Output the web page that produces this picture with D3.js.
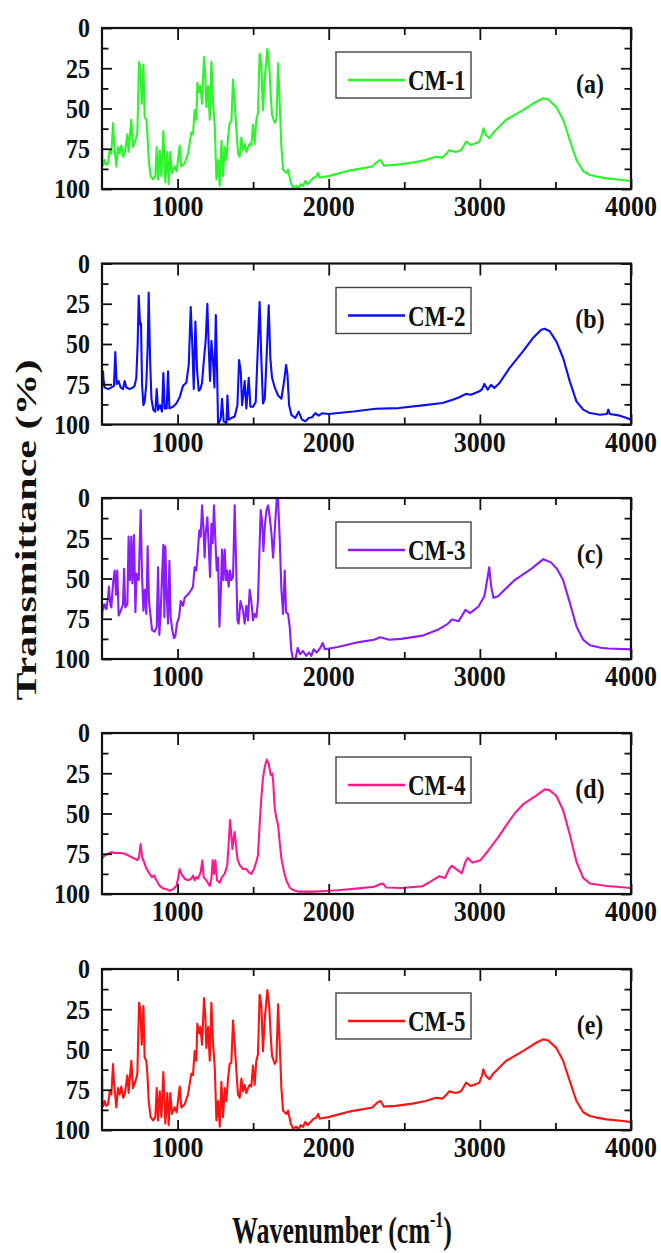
<!DOCTYPE html>
<html><head><meta charset="utf-8">
<script src="https://cdn.jsdelivr.net/npm/d3@7"></script>
<style>
body{margin:0;background:#fff}
svg{display:block}
text{font-family:"Liberation Serif","Times New Roman",serif;font-weight:bold;fill:#111}
</style>
</head><body>
<svg id="c" width="661" height="1253"></svg>
<script>
const xTicks=[1000,2000,3000,4000];
const xMinor=[1500,2500,3500];
const yTicks=[0,25,50,75,100];
const yMinor=[12.5,37.5,62.5,87.5];
const names=["CM-1","CM-2","CM-3","CM-4","CM-5"];
const panelLabels=["(a)","(b)","(c)","(d)","(e)"];
const colors=["#2cf52c","#0c0cff","#8a1cff","#ff1a8c","#ff1212"];
const xTitle="Wavenumber (cm";
const xTitleSup="-1";
const yTitle="Transmittance (%)";

const cm1=[[500,61],[503,84],[510,85],[518,82],[529,85],[540,84],[551,76],[562,78],[573,59],[579,70],[595,86],[606,74],[617,78],[628,73],[640,80],[650,78],[668,66],[676,77],[694,57],[705,74],[721,70],[734,65],[745,21],[754,25],[763,47],[774,23],[782,55],[793,57],[800,65],[809,82],[822,92],[838,94],[853,92],[862,74],[871,94],[882,76],[893,92],[906,64],[919,96],[932,77],[941,97],[952,77],[963,90],[981,86],[994,89],[1014,73],[1025,86],[1047,84],[1069,78],[1091,65],[1102,66],[1113,51],[1124,57],[1131,34],[1142,40],[1151,36],[1162,47],[1175,18],[1184,30],[1190,49],[1202,36],[1213,57],[1224,21],[1235,47],[1246,61],[1257,94],[1268,82],[1279,98],[1290,70],[1301,92],[1312,74],[1323,82],[1334,68],[1345,59],[1356,58],[1367,32],[1378,47],[1389,63],[1400,78],[1411,80],[1422,68],[1433,76],[1444,72],[1455,77],[1466,74],[1477,72],[1488,73],[1499,60],[1510,72],[1521,57],[1532,53],[1543,16],[1554,22],[1565,51],[1577,31],[1594,13],[1607,24],[1616,41],[1625,54],[1643,59],[1654,57],[1665,22],[1676,47],[1687,74],[1698,88],[1709,89],[1720,90],[1731,88],[1749,96],[1764,99],[1786,98],[1800,99.5],[1815,97],[1830,98],[1845,95],[1860,97],[1880,95],[1900,93],[1915,92.5],[1930,90],[1940,93],[1960,92.5],[2000,92],[2066,90.3],[2133,88.6],[2221,87.2],[2288,86],[2321,83],[2343,82],[2365,85.5],[2443,85],[2554,83.6],[2642,82],[2709,80],[2753,80.5],[2780,78],[2797,76],[2842,77],[2875,76],[2895,73],[2908,70.6],[2941,72.7],[2997,70.6],[3015,66],[3023,62.3],[3041,66.5],[3063,68.5],[3085,65.4],[3174,57],[3285,51],[3373,45.8],[3418,43.7],[3451,44.2],[3506,49],[3551,57],[3595,69.6],[3639,82],[3684,89],[3728,91.3],[3772,92.3],[3838,93.4],[3949,94.4],[4000,95.2]];

const cm2=[[500,78],[507,67],[510,72],[518,77],[540,78],[562,77],[579,76],[588,55],[597,75],[610,73],[623,77],[639,78],[650,73],[661,77],[683,78],[705,77],[716,76],[727,71],[736,50],[743,20],[752,38],[758,37],[765,75],[774,88],[782,86],[793,75],[802,52],[809,18],[818,59],[827,84],[840,91],[853,92],[862,78],[871,91],[884,88],[897,92],[906,68],[915,90],[928,90],[937,67],[946,90],[970,89],[992,87],[1014,83],[1036,76],[1058,74],[1074,63],[1087,27],[1098,52],[1107,78],[1118,36],[1129,66],[1140,79],[1151,78],[1162,74],[1175,59],[1186,48],[1197,25],[1206,52],[1215,73],[1224,48],[1235,61],[1244,77],[1253,32],[1262,69],[1268,100],[1286,96],[1294,84],[1305,98],[1323,99],[1330,82],[1338,97],[1356,96],[1378,95],[1396,88],[1407,60],[1418,67],[1427,88],[1438,79],[1444,73],[1455,90],[1471,71],[1482,89],[1499,89],[1517,86],[1532,50],[1543,24],[1554,59],[1565,87],[1577,84],[1590,56],[1603,26],[1614,59],[1625,71],[1643,77],[1665,82],[1687,84],[1705,73],[1718,63],[1727,69],[1738,88],[1753,94],[1779,96],[1801,92],[1823,97],[1845,98],[1867,96],[1889,95.5],[1911,93],[1934,94.5],[1956,93],[2000,93.5],[2177,91.8],[2310,90.2],[2465,89.8],[2620,88.1],[2753,86.6],[2820,84.6],[2864,83.1],[2908,81],[2941,81.5],[2997,79.4],[3015,78],[3030,74.8],[3052,78.4],[3074,75.3],[3096,77.3],[3130,74.2],[3196,65],[3285,54.6],[3351,46.3],[3406,41.1],[3429,40.5],[3462,42.1],[3506,48.4],[3551,58.7],[3595,73.2],[3639,85.6],[3684,90.8],[3728,92.9],[3794,93.9],[3840,93.5],[3850,90.8],[3860,93.5],[3927,94.5],[3971,96],[4000,97]];

const cm3=[[500,76],[505,66],[509,69],[518,66],[529,69],[540,62],[546,55],[555,66],[562,68],[573,53],[584,45],[593,60],[601,45],[610,73],[624,70],[639,66],[646,44],[654,68],[668,66],[676,24],[685,51],[694,24],[701,53],[712,23],[721,71],[729,47],[743,51],[756,7.5],[765,49],[774,70],[782,57],[793,72],[802,30],[811,64],[822,74],[831,82],[849,83],[862,80],[871,43],[879,85],[888,72],[897,49],[906,29],[913,74],[919,30],[928,60],[937,78],[946,39],[954,74],[965,82],[976,87],[985,86],[996,78],[1010,74],[1021,64],[1036,67],[1047,62],[1069,60],[1091,57],[1102,55],[1113,43],[1124,45],[1135,32],[1144,20],[1153,24],[1162,4.5],[1171,18],[1179,37],[1186,22],[1197,12],[1206,30],[1215,49],[1224,16],[1232,28],[1241,4.5],[1250,26],[1259,45],[1268,37],[1277,80],[1285,62],[1294,32],[1303,51],[1312,32],[1321,51],[1329,45],[1338,55],[1347,45],[1356,51],[1367,49],[1378,4.5],[1389,47],[1396,76],[1404,78],[1416,64],[1424,67],[1433,70],[1444,78],[1455,67],[1466,76],[1477,57],[1488,64],[1499,76],[1510,72],[1521,74],[1532,64],[1541,35],[1550,7.5],[1559,14],[1568,33],[1577,18],[1588,7.5],[1599,4.5],[1610,12],[1621,22],[1632,37],[1643,20],[1656,1],[1665,1],[1676,26],[1687,57],[1698,72],[1709,45],[1718,71],[1731,72],[1742,80],[1753,95],[1764,100],[1780,100],[1795,93],[1810,97],[1830,95],[1850,98],[1870,96],[1885,98],[1900,94],[1920,96],[1945,93],[1960,90],[1975,94],[2060,92.5],[2200,89.5],[2300,88],[2340,86.5],[2400,88],[2480,87.5],[2620,85.5],[2730,81.5],[2790,78],[2815,75.5],[2860,76.5],[2905,69.5],[2935,71.5],[2990,67.5],[3030,61],[3050,50],[3062,43],[3075,55],[3090,62],[3120,61],[3230,51],[3340,44],[3420,38],[3470,40],[3510,44],[3551,51],[3595,65],[3640,80],[3684,88],[3728,91.5],[3800,93],[3850,93.5],[4000,94]];

const cm4=[[500,78],[518,76],[540,75],[562,74],[584,74.5],[606,74.5],[628,74.5],[650,75],[672,76],[694,77],[716,78],[734,79],[745,77],[756,69],[765,77],[778,80],[793,84],[815,87.5],[831,89.5],[844,88.5],[860,91.5],[882,95],[904,96.5],[926,97],[948,98],[970,97],[992,95],[1003,90.5],[1014,84.5],[1025,87.5],[1047,90.5],[1069,91.5],[1091,90.5],[1102,88.5],[1113,91.5],[1124,89.5],[1135,90.5],[1153,86.5],[1164,79],[1173,89.5],[1190,91.5],[1213,95],[1224,90.5],[1232,79],[1241,87.5],[1250,79],[1261,91.5],[1279,93],[1294,89.5],[1312,87.5],[1329,82],[1340,65.5],[1347,54],[1356,63.5],[1363,72],[1371,65.5],[1378,61.5],[1387,70],[1396,78],[1411,82],[1433,84.5],[1455,84.5],[1471,86.5],[1488,87.5],[1506,84.5],[1521,80],[1532,76],[1543,57],[1554,40.5],[1565,28],[1577,21],[1590,16.5],[1603,19],[1616,26],[1625,25],[1632,29],[1643,47],[1654,53],[1665,57],[1676,68],[1687,78],[1705,86.5],[1720,91.5],[1742,96],[1764,97.5],[1797,98.5],[1820,98.5],[1900,98.5],[1950,98.3],[2060,97.7],[2200,96.5],[2300,95.5],[2340,94],[2360,93.5],[2380,96],[2480,96.3],[2620,95.2],[2670,92.5],[2730,89],[2770,90],[2800,84],[2815,82.5],[2850,85],[2880,87],[2905,80],[2920,77.5],[2950,80.5],[3005,79],[3060,72.5],[3120,65],[3170,58],[3230,50],[3290,44],[3370,39],[3430,35],[3460,35.5],[3506,39],[3551,48],[3595,63],[3639,80],[3684,90],[3728,93.5],[3840,95],[4000,96.3]];

const cm5=[[500,61],[503,84],[510,85],[518,82],[529,85],[540,84],[551,76],[562,78],[573,59],[579,70],[595,86],[606,74],[617,78],[628,73],[640,80],[650,78],[668,66],[676,77],[694,57],[705,74],[721,70],[734,65],[745,21],[754,25],[763,47],[774,23],[782,55],[793,57],[800,65],[809,82],[822,92],[838,94],[853,92],[862,74],[871,94],[882,76],[893,92],[906,64],[919,96],[932,77],[941,97],[952,77],[963,90],[981,86],[994,89],[1014,73],[1025,86],[1047,84],[1069,78],[1091,65],[1102,66],[1113,51],[1124,57],[1131,34],[1142,40],[1151,36],[1162,47],[1175,18],[1184,30],[1190,49],[1202,36],[1213,57],[1224,21],[1235,47],[1246,61],[1257,94],[1268,82],[1279,98],[1290,70],[1301,92],[1312,74],[1323,82],[1334,68],[1345,59],[1356,58],[1367,32],[1378,47],[1389,63],[1400,78],[1411,80],[1422,68],[1433,76],[1444,72],[1455,77],[1466,74],[1477,72],[1488,73],[1499,60],[1510,72],[1521,57],[1532,53],[1543,16],[1554,22],[1565,51],[1577,31],[1594,13],[1607,24],[1616,41],[1625,54],[1643,59],[1654,57],[1665,22],[1676,47],[1687,74],[1698,88],[1709,89],[1720,90],[1731,88],[1749,96],[1764,99],[1786,98],[1800,99.5],[1815,97],[1830,98],[1845,95],[1860,97],[1880,95],[1900,93],[1915,92.5],[1930,90],[1940,93],[1960,92.5],[2000,92],[2066,90.3],[2133,88.6],[2221,87.2],[2288,86],[2321,83],[2343,82],[2365,85.5],[2443,85],[2554,83.6],[2642,82],[2709,80],[2753,80.5],[2780,78],[2797,76],[2842,77],[2875,76],[2895,73],[2908,70.6],[2941,72.7],[2997,70.6],[3015,66],[3023,62.3],[3041,66.5],[3063,68.5],[3085,65.4],[3174,57],[3285,51],[3373,45.8],[3418,43.7],[3451,44.2],[3506,49],[3551,57],[3595,69.6],[3639,82],[3684,89],[3728,91.3],[3772,92.3],[3838,93.4],[3949,94.4],[4000,95.2]];

const series=[cm1,cm2,cm3,cm4,cm5];

const W=661,H=1253;
const left=102,right=631,ph=161;
const tops=[28,263.5,498,733,969];

const svg=d3.select("#c");
svg.append("rect").attr("width",W).attr("height",H).attr("fill","#fff");
const x=d3.scaleLinear().domain([500,4000]).range([left,right]);

function styleAxis(sel){
  sel.select(".domain").remove();
  sel.selectAll(".tick line").attr("stroke","#111").attr("stroke-width",1.8);
  sel.selectAll(".tick text").remove();
}

series.forEach((data,i)=>{
  const top=tops[i], bottom=top+ph;
  const y=d3.scaleLinear().domain([0,100]).range([top,bottom]);
  const g=svg.append("g");
  const cid="clip"+i;
  g.append("clipPath").attr("id",cid).append("rect")
    .attr("x",left).attr("y",top-1).attr("width",right-left).attr("height",ph+2);
  const line=d3.line().x(d=>x(d[0])).y(d=>y(d[1]));
  g.append("path").datum(data).attr("d",line).attr("fill","none")
    .attr("stroke",colors[i]).attr("stroke-width",2.1)
    .attr("stroke-linejoin","round").attr("clip-path",`url(#${cid})`);

  g.append("g").attr("transform",`translate(0,${bottom})`)
    .call(d3.axisBottom(x).tickValues(xTicks).tickSizeInner(-10).tickSizeOuter(0)).call(styleAxis);
  g.append("g").attr("transform",`translate(0,${bottom})`)
    .call(d3.axisBottom(x).tickValues(xMinor).tickSizeInner(-7).tickSizeOuter(0)).call(styleAxis);
  g.append("g").attr("transform",`translate(0,${top})`)
    .call(d3.axisTop(x).tickValues(xTicks).tickSizeInner(-12).tickSizeOuter(0)).call(styleAxis);
  g.append("g").attr("transform",`translate(0,${top})`)
    .call(d3.axisTop(x).tickValues(xMinor).tickSizeInner(-7).tickSizeOuter(0)).call(styleAxis);
  g.append("g").attr("transform",`translate(${left},0)`)
    .call(d3.axisLeft(y).tickValues(yTicks).tickSizeInner(-10).tickSizeOuter(0)).call(styleAxis);
  g.append("g").attr("transform",`translate(${left},0)`)
    .call(d3.axisLeft(y).tickValues(yMinor).tickSizeInner(-6.5).tickSizeOuter(0)).call(styleAxis);
  g.append("g").attr("transform",`translate(${right},0)`)
    .call(d3.axisRight(y).tickValues(yTicks).tickSizeInner(-10).tickSizeOuter(0)).call(styleAxis);
  g.append("g").attr("transform",`translate(${right},0)`)
    .call(d3.axisRight(y).tickValues(yMinor).tickSizeInner(-6.5).tickSizeOuter(0)).call(styleAxis);

  g.append("rect").attr("x",left).attr("y",top).attr("width",right-left).attr("height",ph)
    .attr("fill","none").attr("stroke","#111").attr("stroke-width",2.2);

  g.selectAll("text.yl").data(yTicks).join("text").attr("class","yl")
    .attr("transform",d=>`translate(90,${y(d)}) scale(1,1.1)`)
    .attr("dy","0.35em").attr("text-anchor","end").attr("font-size",24).text(d=>d);
  g.selectAll("text.xl").data(xTicks).join("text").attr("class","xl")
    .attr("transform",d=>`translate(${x(d)},${bottom+27}) scale(1,1.1)`)
    .attr("text-anchor","middle").attr("font-size",26).text(d=>d);

  g.append("rect").attr("x",336).attr("y",top+24).attr("width",135).attr("height",46)
    .attr("fill","#fff").attr("stroke","#444").attr("stroke-width",1.4);
  g.append("line").attr("x1",348).attr("x2",405).attr("y1",top+52).attr("y2",top+52)
    .attr("stroke",colors[i]).attr("stroke-width",2.6);
  g.append("text").attr("transform",`translate(408,${top+52}) scale(1,1.3)`)
    .attr("dy","0.35em").attr("font-size",23).text(names[i]);

  g.append("text").attr("transform",`translate(590,${top+55}) scale(1,1.15)`)
    .attr("dy","0.35em").attr("text-anchor","middle").attr("font-size",24).text(panelLabels[i]);
});

const xt=svg.append("text").attr("transform","translate(342,1243) scale(1,1.45)")
  .attr("text-anchor","middle").attr("font-size",26);
xt.append("tspan").text(xTitle);
xt.append("tspan").attr("font-size",16).attr("dy",-11).text(xTitleSup);
xt.append("tspan").attr("dy",11).text(")");

svg.append("text").attr("transform","translate(36,530) scale(1,1.4) rotate(-90)")
  .attr("text-anchor","middle").attr("font-size",30).text(yTitle);
</script>
</body></html>
